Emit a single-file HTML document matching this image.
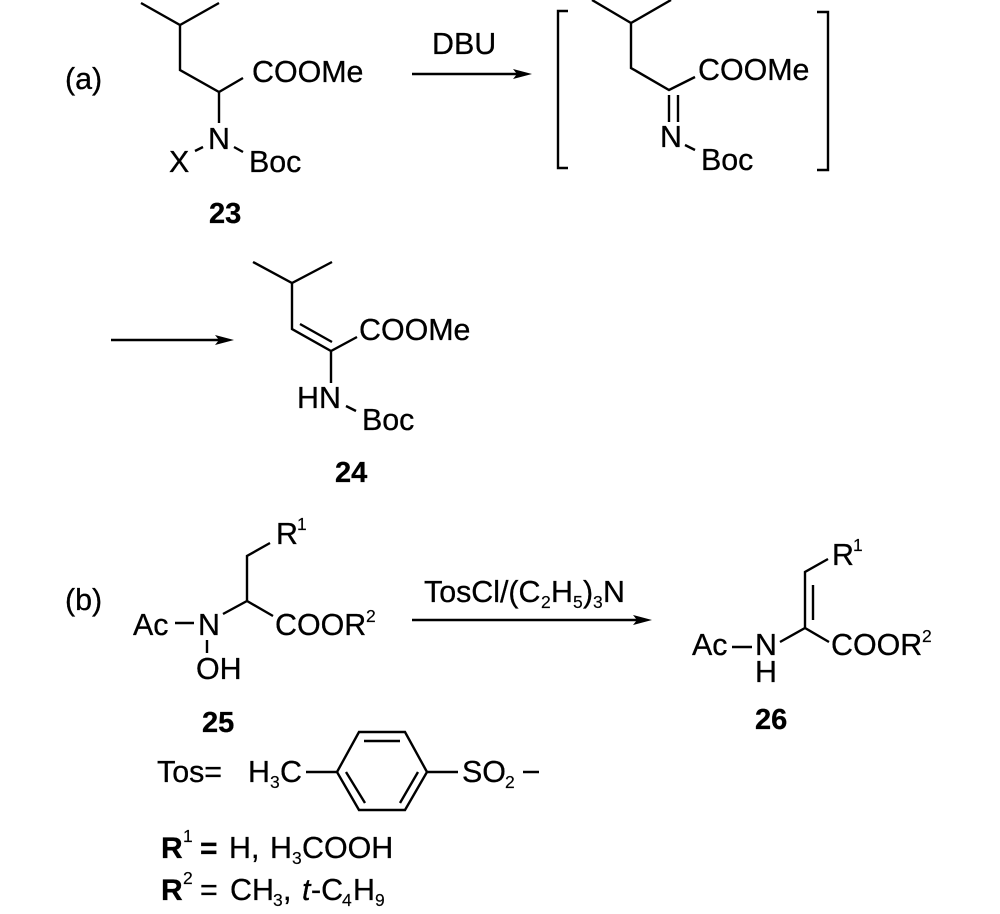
<!DOCTYPE html>
<html><head><meta charset="utf-8"><style>
html,body{margin:0;padding:0;background:#fff}
svg{display:block}
text{font-family:"Liberation Sans",sans-serif;font-size:30.4px;fill:#000;stroke:#000;stroke-width:.3px}
.b{font-weight:bold;font-size:29px}
.s{font-size:17.5px;stroke-width:.15px}
path{fill:none;stroke:#000;stroke-width:2.4}
.h{fill:#000;stroke:none}
</style></head><body>
<svg width="1000" height="914" viewBox="0 0 1000 914" xmlns="http://www.w3.org/2000/svg">
<!-- 23 -->
<text x="65" y="89">(a)</text>
<path d="M141 3L180 25L219 3M180 25V70L219 92L243 78M219 92V123M195 151L203 147M234 147L243 152" />
<text x="252" y="82">COOMe</text>
<text x="208" y="149">N</text>
<text x="169" y="172">X</text>
<text x="249" y="172">Boc</text>
<text class="b" x="209" y="223">23</text>
<!-- arrow 1 -->
<text x="432" y="54">DBU</text>
<path d="M412 74H520"/><path class="h" d="M513 69L532 74L513 79L517 74Z"/>
<!-- bracket -->
<path d="M568 11H558V168H568M817 12H828V170H817"/>
<path d="M592 0L631 23L671 0M631 23V68L669 90L695 77M669 95V122M678 95V122M685 145L695 150"/>
<text x="698" y="80">COOMe</text>
<text x="660" y="147">N</text>
<text x="701" y="170">Boc</text>
<!-- 24 -->
<path d="M111 340H222" style="stroke-width:2.6"/><path class="h" d="M215 335L234 340L215 345L219 340Z"/>
<path d="M253 262L292 283L332 262M292 283V329L331 351L357 337M300 324L332 342M331 351V383M346 406L356 411"/>
<text x="359" y="340">COOMe</text>
<text x="297" y="408">HN</text>
<text x="362" y="430">Boc</text>
<text class="b" x="335" y="482">24</text>
<!-- 25 -->
<text x="65" y="610">(b)</text>
<path d="M175 623H194M223 614L247 601L273 616M247 601V556L270 543M207 640V653"/>
<text x="133" y="635">Ac</text>
<text x="198" y="635">N</text>
<text x="276" y="544">R</text>
<text class="s" x="297" y="530">1</text>
<text x="275" y="635">COOR</text>
<text class="s" x="366" y="622">2</text>
<text x="196" y="679">OH</text>
<text class="b" x="202" y="732">25</text>
<!-- arrow 2 -->
<text x="424" y="602">TosCl/(C</text>
<text class="s" x="541" y="608">2</text>
<text x="551" y="602">H</text>
<text class="s" x="573" y="608">5</text>
<text x="583" y="602">)</text>
<text class="s" x="593" y="608">3</text>
<text x="603" y="602">N</text>
<path d="M412 620H640"/><path class="h" d="M633 615L652 620L633 625L637 620Z"/>
<!-- 26 -->
<path d="M732 647H752M780 642L805 628L829 642M805 628V572L828 559M813 620V585"/>
<text x="692" y="655">Ac</text>
<text x="755" y="655">N</text>
<text x="755" y="682">H</text>
<text x="832" y="565">R</text>
<text class="s" x="853" y="551">1</text>
<text x="831" y="655">COOR</text>
<text class="s" x="922" y="642">2</text>
<text class="b" x="755" y="729">26</text>
<!-- Tos -->
<text x="157" y="782">Tos=</text>
<text x="248" y="782">H</text>
<text class="s" x="270" y="788">3</text>
<text x="280" y="782">C</text>
<path d="M306 772H337L359 732H405L427 772L405 810H359L337 772M364 741H400M346 772L365 803M418 772L400 803M427 772H458M523 772H539"/>
<text x="462" y="782">SO</text>
<text class="s" x="505" y="788">2</text>
<!-- R lines -->
<text class="b" style="font-size:30px" x="161" y="858">R</text>
<text class="s" x="183" y="842">1</text>
<text class="b" style="font-size:30px" x="200" y="858">=</text>
<text x="229" y="858">H,</text>
<text x="270" y="858">H</text>
<text class="s" x="292" y="864">3</text>
<text x="302" y="858">COOH</text>
<text class="b" style="font-size:30px" x="161" y="900">R</text>
<text class="s" x="183" y="884">2</text>
<text x="200" y="900">=</text>
<text x="230" y="900">CH</text>
<text class="s" x="273" y="906">3</text>
<text x="283" y="900">,</text>
<text x="302" y="900" font-style="italic">t</text>
<text x="311" y="900">-C</text>
<text class="s" x="342" y="906">4</text>
<text x="353" y="900">H</text>
<text class="s" x="375" y="906">9</text>
</svg>
</body></html>
